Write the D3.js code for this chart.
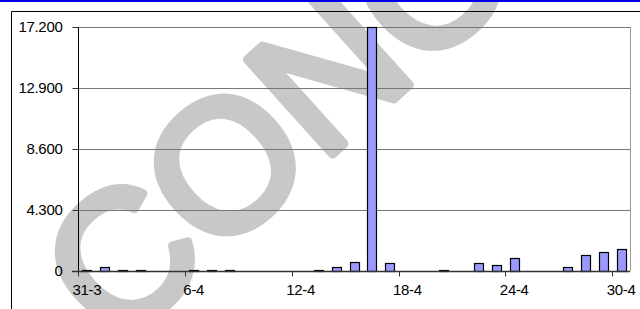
<!DOCTYPE html>
<html>
<head>
<meta charset="utf-8">
<script src="https://cdn.jsdelivr.net/npm/d3@7"></script>
<style>
  body { margin: 0; background: #fff; }
  svg { display: block; font-family: "Liberation Sans", Arial, sans-serif; }
</style>
</head>
<body>
<div id="chart"></div>
<script>
// daily values, 31-3 .. 30-4
const days = ["31-3","1-4","2-4","3-4","4-4","5-4","6-4","7-4","8-4","9-4","10-4","11-4","12-4","13-4","14-4","15-4",
  "16-4","17-4","18-4","19-4","20-4","21-4","22-4","23-4","24-4","25-4","26-4","27-4","28-4","29-4","30-4"];
const values = [60, 250, 60, 60, 0, 0, 60, 60, 60, 0, 0, 0, 0, 60, 280, 640,
  17200, 540, 0, 0, 60, 0, 560, 400, 950, 0, 0, 280, 1100, 1350, 1520];
const yTicks = [0, 4300, 8600, 12900, 17200];
const xLabels = ["31-3", "6-4", "12-4", "18-4", "24-4", "30-4"];

const W = 640, H = 309;
const margin = {top: 27, right: 10, bottom: 38, left: 78};
const width = W - margin.left - margin.right,
    height = H - margin.top - margin.bottom;

const it = d3.formatLocale({decimal: ",", thousands: ".", grouping: [3], currency: ["", "€"]});
const fmt = it.format(",.0f");

const svg = d3.select("#chart").append("svg")
    .attr("width", W)
    .attr("height", H);

// watermark behind the chart
svg.append("text")
    .attr("transform", "translate(115,350) rotate(-42)")
    .attr("font-size", 185)
    .attr("fill", "#c8c8c8")
    .attr("stroke", "#c8c8c8")
    .attr("stroke-width", 9)
    .attr("stroke-linejoin", "round")
    .text("CONO");

// top blue strip and outer frame
svg.append("rect").attr("x", 0).attr("y", 0).attr("width", W).attr("height", 2).attr("fill", "#0000ee");
svg.append("path")
    .attr("d", "M11.5," + H + "V11.5H" + W)
    .attr("fill", "none")
    .attr("stroke", "#000");

const g = svg.append("g")
    .attr("transform", "translate(" + margin.left + "," + margin.top + ")");

const x = d3.scaleBand()
    .domain(days)
    .range([0, width])
    .paddingInner(0.5)
    .paddingOuter(0.25);

const y = d3.scaleLinear()
    .domain([0, 17200])
    .range([height, 0]);

// gridlines
g.selectAll(".grid")
    .data(yTicks.slice(1))
    .enter().append("line")
    .attr("x1", 0).attr("x2", width)
    .attr("y1", d => Math.round(y(d)) + 0.5)
    .attr("y2", d => Math.round(y(d)) + 0.5)
    .attr("stroke", "#777");

// plot border right side
g.append("line")
    .attr("x1", width + 0.5).attr("x2", width + 0.5)
    .attr("y1", 0).attr("y2", height)
    .attr("stroke", "#999");

// bars
const rows = days.map((d, i) => ({day: d, value: values[i]})).filter(d => d.value > 0);
g.selectAll(".bar")
    .data(rows)
    .enter().append("rect")
    .attr("x", d => Math.round(x(d.day)) + 0.5)
    .attr("width", Math.round(x.bandwidth()))
    .attr("y", d => Math.min(Math.round(y(d.value)), height - 1) + 0.5)
    .attr("height", d => Math.max(height - Math.round(y(d.value)), 1))
    .attr("fill", "#9999ff")
    .attr("stroke", "#000")
    .attr("stroke-width", 1.2);

// y axis
const yAxis = g.append("g")
    .attr("transform", "translate(0.5,0)")
    .call(d3.axisLeft(y).tickValues(yTicks).tickFormat(fmt).tickSize(6).tickPadding(10));
yAxis.select(".domain").attr("d", "M0,0V" + height).attr("stroke", "#000");
yAxis.selectAll(".tick line").attr("stroke", "#333");
yAxis.selectAll("text")
    .attr("font-size", 15)
    .attr("font-family", "'Liberation Sans', Arial, sans-serif")
    .attr("fill", "#000")
    .attr("letter-spacing", "-0.3");

// x axis: ticks every 6 days on category boundaries
const step = x.step();
const xa = g.append("g").attr("transform", "translate(0," + (height + 0.5) + ")");
xa.append("line")
    .attr("x1", -6).attr("x2", width)
    .attr("stroke", "#333").attr("stroke-width", 1.5);
xa.selectAll(".xt")
    .data(xLabels)
    .enter().append("line")
    .attr("x1", d => Math.round(x(d) - step * 0.25) + 0.5)
    .attr("x2", d => Math.round(x(d) - step * 0.25) + 0.5)
    .attr("y1", 0).attr("y2", 5)
    .attr("stroke", "#333");
xa.selectAll(".xl")
    .data(xLabels)
    .enter().append("text")
    .attr("x", d => x(d) + x.bandwidth() / 2)
    .attr("y", 23)
    .attr("text-anchor", "middle")
    .attr("font-size", 15)
    .attr("letter-spacing", "-0.3")
    .text(d => d);
</script>
</body>
</html>
